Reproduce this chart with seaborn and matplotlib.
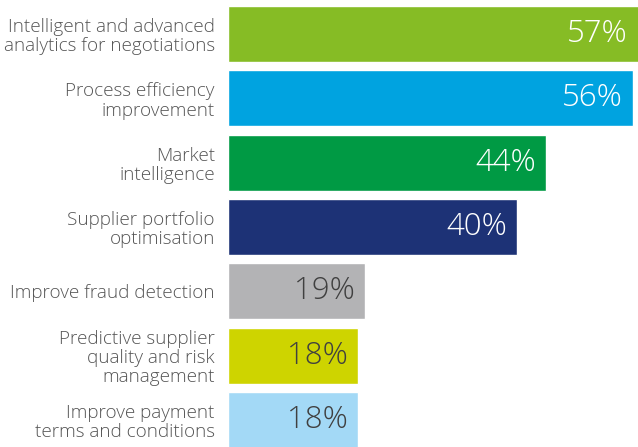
import matplotlib
matplotlib.use("Agg")
import matplotlib.pyplot as plt
import seaborn as sns
import pandas as pd

## datos
categorias = ["Intelligent and advanced\nanalytics for negotiations",
              "Process efficiency\nimprovement",
              "Market\nintelligence",
              "Supplier portfolio\noptimisation",
              "Improve fraud detection",
              "Predictive supplier\nquality and risk\nmanagement",
              "Improve payment\nterms and conditions"]
valores = [57, 56, 44, 40, 19, 18, 18]
colores = ["#86BC25", "#00A3E0", "#009A44", "#1D3276", "#B3B3B5", "#CED400", "#A3D9F6"]
color_texto = ["white", "white", "white", "white", "#404040", "#404040", "#404040"]

df = pd.DataFrame({"cat": categorias, "val": valores})

sns.set_theme(style="white")
plt.rcParams["font.family"] = ["Open Sans", "DejaVu Sans"]

fig = plt.figure(figsize=(6.38, 4.47), dpi=100)
ax = fig.add_axes([228 / 638, 0, 410 / 638, 1])

sns.barplot(ax=ax, data=df, x="val", y="cat", hue="cat", palette=colores,
            legend=False, width=0.868, saturation=1, orient="h")

ax.set_xlim(0, 56.7)
ax.set_ylim(6.42, -0.53)
ax.set_xlabel("")
ax.set_ylabel("")
ax.set_xticks([])
sns.despine(ax=ax, left=True, bottom=True)
ax.tick_params(axis="y", length=0, pad=9.5)
for lab in ax.get_yticklabels():
    lab.set_fontsize(13.6)
    lab.set_color("#555555")
    lab.set_fontweight("light")
    lab.set_linespacing(1.08)

##porcentajes
for i, v in enumerate(valores):
    ax.annotate(f"{v}%", xy=(min(v, 56.7), i), xytext=(-7.5, 0), textcoords="offset points",
                ha="right", va="center", fontsize=22.5, color=color_texto[i],
                fontweight="light")

fig.savefig("out.png", dpi=100)
